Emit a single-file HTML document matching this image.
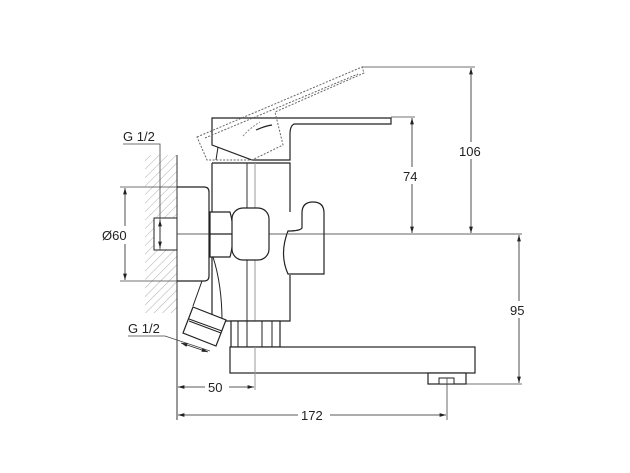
<!DOCTYPE html>
<html><head><meta charset="utf-8"><style>
html,body{margin:0;padding:0;background:#fff;}
svg{display:block}
text{font-family:"Liberation Sans",sans-serif;font-size:13px;fill:#222}
</style></head><body>
<svg width="630" height="473" viewBox="0 0 630 473" xmlns="http://www.w3.org/2000/svg">
<defs>
<pattern id="h" width="6" height="6" patternUnits="userSpaceOnUse" patternTransform="rotate(45)">
<line x1="0" y1="0" x2="0" y2="6" stroke="#999" stroke-width="0.8"/>
</pattern>
<marker id="a" viewBox="0 0 10 6" refX="10" refY="3" markerWidth="8" markerHeight="5" orient="auto-start-reverse">
<path d="M0,0 L10,3 L0,6 z" fill="#222"/>
</marker>
</defs>
<!-- wall hatch -->
<rect x="145" y="155" width="32" height="158" fill="url(#h)"/>
<line x1="177" y1="155" x2="177" y2="420" stroke="#333" stroke-width="1"/>
<!-- inner small rect -->
<rect x="154" y="218" width="23" height="32" fill="#fff" stroke="#222" stroke-width="1"/>
<!-- G1/2 top -->
<text x="123" y="141">G 1/2</text>
<polyline points="123,144 160,144 160,250" fill="none" stroke="#444" stroke-width="0.8"/>
<line x1="160" y1="220" x2="160" y2="248" stroke="#222" stroke-width="0.8" marker-start="url(#a)" marker-end="url(#a)"/>
<!-- flange -->
<path d="M177,187 H204 Q209,187 209,192 V276 Q209,281 204,281 H177" fill="none" stroke="#222" stroke-width="1.2"/>
<!-- Ø60 dim -->
<line x1="120" y1="187" x2="177" y2="187" stroke="#444" stroke-width="0.8"/>
<line x1="120" y1="281" x2="177" y2="281" stroke="#444" stroke-width="0.8"/>
<line x1="125" y1="188" x2="125" y2="280" stroke="#222" stroke-width="0.8" marker-start="url(#a)" marker-end="url(#a)"/>
<rect x="100" y="226" width="36" height="18" fill="#fff"/>
<text x="102" y="240">Ø60</text>
<!-- centerline -->
<line x1="177" y1="234" x2="522" y2="234" stroke="#333" stroke-width="0.8"/>
<!-- body -->
<path d="M212,163 H290 V212 M290,275 V321 H212 V163" fill="none" stroke="#222" stroke-width="1.2"/>
<line x1="247" y1="163" x2="247" y2="347" stroke="#333" stroke-width="1"/>
<line x1="255" y1="163" x2="255" y2="390" stroke="#999" stroke-width="1"/>
<path d="M213,257 Q222,285 222,321" fill="none" stroke="#222" stroke-width="1"/>
<!-- hex nut -->
<path d="M210,212 H230 Q233,222 233,234 Q233,246 230,257 H210 Z M210,234 H233" fill="#fff" stroke="#222" stroke-width="1.2"/>
<!-- rounded square -->
<rect x="232" y="208" width="37" height="52" rx="11" fill="#fff" stroke="#222" stroke-width="1.2"/>
<!-- knob -->
<path d="M288,231 Q300,231 302,228 V213 Q302,202 313,202 Q324,202 324,213 V274 H288 Q279,254 288,231 Z" fill="#fff" stroke="#222" stroke-width="1.2"/>
<line x1="288" y1="234" x2="324" y2="234" stroke="#333" stroke-width="0.8"/>
<!-- inlet pipe -->
<line x1="202" y1="281" x2="193" y2="306" stroke="#222" stroke-width="1"/>
<path d="M193,307 L226,320 L216,346 L183,333 Z" fill="#fff" stroke="#222" stroke-width="1.2"/>
<line x1="189" y1="319" x2="222" y2="331" stroke="#222" stroke-width="1"/>
<line x1="189" y1="321" x2="221" y2="333" stroke="#222" stroke-width="1"/>
<text x="128" y="333">G 1/2</text>
<polyline points="128,336 165,336 210,351" fill="none" stroke="#444" stroke-width="0.8"/>
<line x1="181" y1="343" x2="208" y2="352" stroke="#222" stroke-width="0.8" marker-start="url(#a)" marker-end="url(#a)"/>
<!-- aerator rings -->
<rect x="231" y="321" width="49" height="26" fill="#fff" stroke="#222" stroke-width="1.2"/>
<line x1="238" y1="321" x2="238" y2="347" stroke="#222"/>
<line x1="262" y1="321" x2="262" y2="347" stroke="#222"/>
<line x1="272" y1="321" x2="272" y2="347" stroke="#222"/>
<line x1="247" y1="321" x2="247" y2="347" stroke="#222"/>
<!-- spout -->
<rect x="230" y="347" width="245" height="26" fill="#fff" stroke="#222" stroke-width="1.2"/>
<rect x="428" y="373" width="38" height="11" fill="#fff" stroke="#222" stroke-width="1.2"/>
<rect x="439" y="378" width="15" height="6" fill="#fff" stroke="#222" stroke-width="1"/>
<line x1="255" y1="347" x2="255" y2="390" stroke="#999" stroke-width="1"/>
<!-- lever solid -->
<path d="M212,118 H391 V124 H294 Q290,126 290,134 V160 H252 L212,145 Z" fill="#fff" stroke="#222" stroke-width="1.2"/>
<path d="M256,130 Q265,126 272,125" fill="none" stroke="#222" stroke-width="1.2"/>
<line x1="218" y1="147" x2="216" y2="160" stroke="#222" stroke-width="1"/>
<!-- lever dashed -->
<path d="M197,137 L362,67 L364,73 L275,112 L283,145 L252,160 H207 Z" fill="none" stroke="#666" stroke-width="1" stroke-dasharray="2,1.5"/>
<path d="M205,138 L358,74" fill="none" stroke="#666" stroke-width="1" stroke-dasharray="2,1.5"/>
<path d="M243,136 Q250,128 260,122" fill="none" stroke="#888" stroke-width="1" stroke-dasharray="2,1.5"/>
<!-- 74/106 dims -->
<line x1="362" y1="67" x2="475" y2="67" stroke="#444" stroke-width="0.8"/>
<line x1="391" y1="117" x2="415" y2="117" stroke="#444" stroke-width="0.8"/>
<line x1="412" y1="118" x2="412" y2="233" stroke="#222" stroke-width="0.8" marker-start="url(#a)" marker-end="url(#a)"/>
<line x1="471" y1="68" x2="471" y2="233" stroke="#222" stroke-width="0.8" marker-start="url(#a)" marker-end="url(#a)"/>
<rect x="402" y="167" width="22" height="17" fill="#fff"/>
<text x="403" y="181">74</text>
<rect x="457" y="142" width="30" height="17" fill="#fff"/>
<text x="459" y="156">106</text>
<!-- 95 dim -->
<line x1="466" y1="384" x2="522" y2="384" stroke="#444" stroke-width="0.8"/>
<line x1="519" y1="235" x2="519" y2="383" stroke="#222" stroke-width="0.8" marker-start="url(#a)" marker-end="url(#a)"/>
<rect x="509" y="301" width="22" height="17" fill="#fff"/>
<text x="510" y="315">95</text>
<!-- 50 dim -->
<line x1="178" y1="387" x2="254" y2="387" stroke="#222" stroke-width="0.8" marker-start="url(#a)" marker-end="url(#a)"/>
<rect x="205" y="380" width="24" height="14" fill="#fff"/>
<text x="208" y="392">50</text>
<!-- 172 dim -->
<line x1="447" y1="378" x2="447" y2="420" stroke="#444" stroke-width="0.8"/>
<line x1="178" y1="415" x2="446" y2="415" stroke="#222" stroke-width="0.8" marker-start="url(#a)" marker-end="url(#a)"/>
<rect x="298" y="407" width="32" height="15" fill="#fff"/>
<text x="301" y="420">172</text>
</svg>
</body></html>
